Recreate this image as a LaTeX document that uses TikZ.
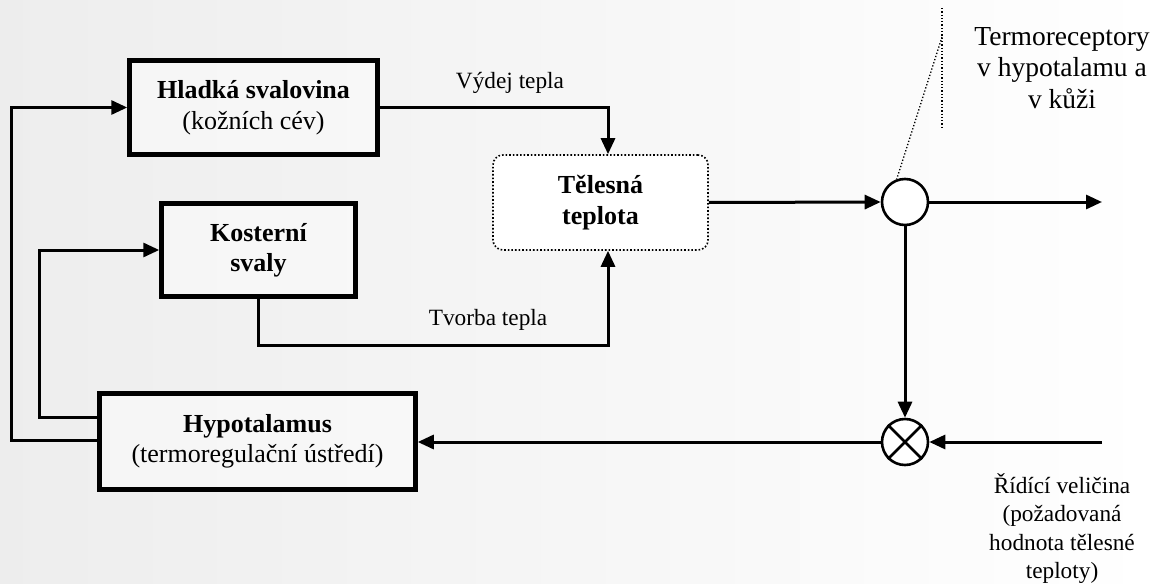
\documentclass[tikz,border=0pt]{standalone}
\usepackage{fontspec}
\setmainfont{Liberation Serif}
\usetikzlibrary{arrows.meta,calc}
\begin{document}
\begin{tikzpicture}[x=1pt,y=-1pt,
  blk/.style={draw,line width=4.5pt,fill=white,fill opacity=0.45,text opacity=1,
    inner sep=0pt,align=center,font=\fontsize{26}{31}\selectfont},
  body/.style={draw,dotted,line width=1.6pt,rounded corners=10pt,fill=white,
    inner sep=0pt,align=center,minimum width=215pt,minimum height=95pt,
    font=\fontsize{26}{31}\selectfont\bfseries},
  sum/.style={circle,draw,line width=2.6pt,minimum size=46pt,inner sep=0pt,fill=white},
  arr/.style={line width=3pt,-{Triangle[length=16pt,width=14pt]}},
  lbl/.style={inner sep=0pt,font=\fontsize{23.3}{28}\selectfont},
  note/.style={inner sep=0pt,align=center},
  guide/.style={dotted,line width=1.3pt}
]
% page background
\shade[left color=gray!14,middle color=gray!3,right color=white,shading angle=90]
  (0,0) rectangle (1155,583);
\useasboundingbox (0,0) rectangle (1155,583);

% effector and controller blocks
\node[blk,minimum width=248pt,minimum height=94pt] (hsv) at (253.5,107.5)
  {\textbf{Hladká svalovina}\\(kožních cév)};
\node[blk,minimum width=194pt,minimum height=93pt,font=\fontsize{26}{30}\selectfont\bfseries]
  (ksv) at (258.5,250) {Kosterní\\svaly};
\node[blk,minimum width=316pt,minimum height=96pt,font=\fontsize{26}{30}\selectfont]
  (hyp) at (257.5,441.5) {\textbf{Hypotalamus}\\(termoregulační ústředí)};

% controlled variable
\node[body] (tel) at (600.5,202.5) {Tělesná\\teplota};

% sensing and comparing elements
\node[sum] (snz) at (905,202) {};
\node[sum] (cmp) at (905,442) {};
\draw[line width=2.6pt] (cmp.north west) -- (cmp.south east)
                        (cmp.north east) -- (cmp.south west);

% free ends
\coordinate (out) at (1102,202);
\coordinate (ref) at (1102,442);
\coordinate (tvb) at (608,345);
\coordinate (g1) at (942,8);
\coordinate (g2) at (942,128);
\coordinate (g3) at (942,37);

% heat flows into body temperature
\draw[arr] (hsv.east) -| ([xshift=7.5pt]tel.north);
\draw[arr] (ksv.south) |- (tvb) -- ([xshift=7.5pt]tel.south);
\node[lbl] (vyd) at (510,83) {Výdej tepla};
\node[lbl] (tvo) at (488,320) {Tvorba tepla};

% measurement loop
\draw[arr] (tel.east) -- (snz.west);
\draw[arr] (snz.east) -- (out);
\draw[arr] (snz.south) -- (cmp.north);
\draw[arr] (ref) -- (cmp.east);
\draw[arr] (cmp.west) -- (cmp.west -| hyp.east);

% control outputs of the hypothalamus
\draw[arr] ([yshift=24.5pt]hyp.west) -- ++(-57.5,0) |- (ksv.west);
\draw[arr] ([yshift=1.5pt]hyp.west) -- ++(-85.5,0) |- (hsv.west);

% receptor pointer
\draw[guide] (g1) -- (g2);
\draw[guide] (g3) -- (snz.110);

% annotations
\node[note,font=\fontsize{27.5}{31.5}\selectfont,anchor=north] (trc) at (1062,27)
  {Termoreceptory\\v hypotalamu a\\v kůži};
\node[note,font=\fontsize{23.3}{28.5}\selectfont,anchor=north] (rv) at (1062,473)
  {Řídící veličina\\(požadovaná\\hodnota tělesné\\teploty)};
\end{tikzpicture}
\end{document}
